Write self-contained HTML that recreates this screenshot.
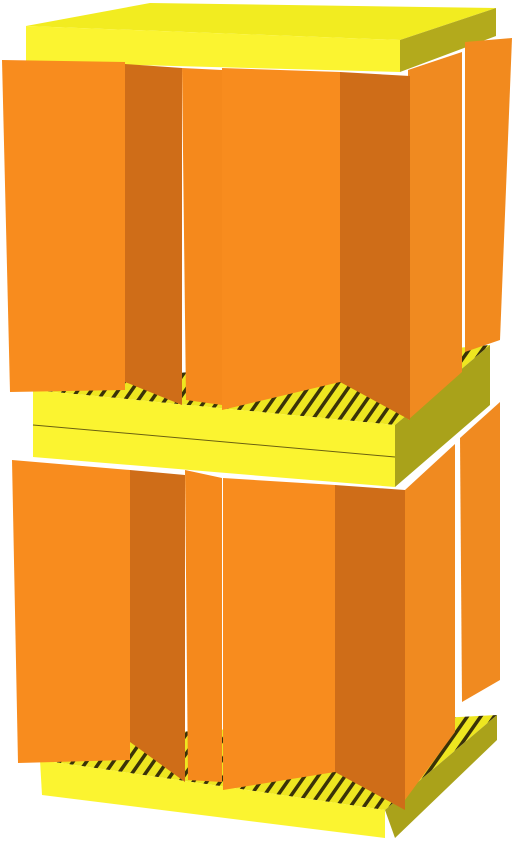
<!DOCTYPE html>
<html><head><meta charset="utf-8"><style>html,body{margin:0;padding:0;background:#fff}svg{display:block}</style></head>
<body>
<svg width="514" height="841" viewBox="0 0 514 841" xmlns="http://www.w3.org/2000/svg">
<defs>
<pattern id="stripes" width="11" height="11" patternUnits="userSpaceOnUse" patternTransform="rotate(35)"><rect width="11" height="11" fill="#eee620"/><rect width="3.5" height="11" fill="#3a3208"/></pattern>
</defs>
<g>
<polygon points="26,26 150,3 496,8 400,40" fill="#f2ec20"/>
<polygon points="26,26 400,40 400,72 26,62" fill="#fbf430"/>
<polygon points="400,40 496,8 496,36 400,72" fill="#b3aa1c"/>
</g>
<g>
<polygon points="33,390 100,380 490,345 395,425" fill="url(#stripes)"/>
<polygon points="33,390 395,425 395,487 33,457" fill="#fbf430"/>
<polygon points="395,425 490,345 490,405 395,487" fill="#a9a21a"/>
<line x1="33" y1="425" x2="395" y2="457" stroke="#6a6010" stroke-width="1"/>
</g>
<g>
<polygon points="40,760 120,735 497,715 385,810" fill="url(#stripes)"/>
<polygon points="40,760 385,810 385,838 42,795" fill="#fbf430"/>
<polygon points="385,810 497,715 497,740 395,838" fill="#aaa21a"/>
</g>
<g>
<polygon points="465,42 512,38 500,340 465,352" fill="#f28a1e"/>
<polygon points="408,70 462,52 462,372 408,420" fill="#f08a20"/>
<polygon points="125,64 182,68 182,405 125,382" fill="#cf6d18"/>
<polygon points="182,68 222,70 222,405 186,400" fill="#f5891c"/>
<polygon points="340,72 410,76 410,420 340,382" fill="#cf6d18"/>
<polygon points="222,68 340,72 340,382 222,410" fill="#f88c1e"/>
<polygon points="2,60 125,62 125,390 10,392" fill="#f88c1e"/>
</g>
<g>
<polygon points="460,438 500,402 500,680 462,702" fill="#f08a20"/>
<polygon points="405,490 455,444 455,732 405,800" fill="#f08a20"/>
<polygon points="130,470 185,475 185,782 130,742" fill="#cf6d18"/>
<polygon points="185,470 222,478 222,782 188,780" fill="#f5891c"/>
<polygon points="335,485 405,490 405,810 335,772" fill="#cf6d18"/>
<polygon points="223,478 335,485 335,772 223,790" fill="#f88c1e"/>
<polygon points="12,460 130,470 130,760 18,763" fill="#f88c1e"/>
</g>
</svg>
</body></html>
